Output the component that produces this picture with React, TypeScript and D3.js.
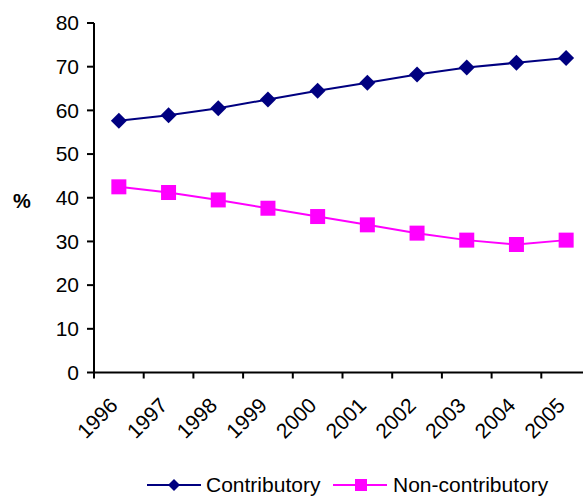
import React from "react";
import * as d3 from "d3";

const years = ["1996", "1997", "1998", "1999", "2000", "2001", "2002", "2003", "2004", "2005"];
const contributory = [57.6, 58.9, 60.5, 62.5, 64.5, 66.3, 68.2, 69.8, 70.9, 72.0];
const nonContributory = [42.5, 41.2, 39.5, 37.6, 35.7, 33.8, 31.9, 30.3, 29.3, 30.3];
const yTicks = [0, 10, 20, 30, 40, 50, 60, 70, 80];

const W = 583;
const H = 496;
const left = 94;
const right = 591;
const top = 23;
const bottom = 372.5;
const font = "Arial, 'Liberation Sans', sans-serif";
const navy = "#000080";
const magenta = "#FF00FF";

export default function App() {
  const x = d3.scaleBand<string>().domain(years).range([left, right]);
  const y = d3.scaleLinear().domain([0, 80]).range([bottom, top]);
  const cx = (d: string) => (x(d) ?? 0) + x.bandwidth() / 2;
  const line = d3
    .line<number>()
    .x((_, i) => cx(years[i]))
    .y((v) => y(v));

  const diamond = (px: number, py: number, r: number) =>
    `M${px},${py - r}L${px + r},${py}L${px},${py + r}L${px - r},${py}Z`;

  return (
    <svg
      width={W}
      height={H}
      style={{ position: "absolute", left: 0, top: 0, background: "#fff" }}
      fontFamily={font}
    >
      <rect width={W} height={H} fill="#fff" />
      {/* y axis */}
      <line x1={left} x2={left} y1={top} y2={bottom} stroke="#000" strokeWidth={2} />
      {yTicks.map((t) => (
        <g key={t}>
          <line x1={left - 7} x2={left} y1={y(t)} y2={y(t)} stroke="#000" strokeWidth={2} />
          <text x={79} y={y(t)} dy="0.35em" textAnchor="end" fontSize={21} fill="#000">
            {t}
          </text>
        </g>
      ))}
      <text x={22} y={201} dy="0.35em" textAnchor="middle" fontSize={20} fontWeight="bold">
        %
      </text>
      {/* x axis */}
      <line x1={left} x2={right} y1={bottom} y2={bottom} stroke="#000" strokeWidth={2} />
      {years.map((yr) => (
        <line
          key={"t" + yr}
          x1={x(yr)}
          x2={x(yr)}
          y1={bottom}
          y2={bottom + 6}
          stroke="#000"
          strokeWidth={2}
        />
      ))}
      {years.map((yr) => (
        <text
          key={"l" + yr}
          transform={`translate(${cx(yr) - 5},${bottom + 29}) rotate(-45)`}
          textAnchor="end"
          dy="0.35em"
          fontSize={21}
        >
          {yr}
        </text>
      ))}
      {/* series */}
      <path d={line(contributory) ?? ""} fill="none" stroke={navy} strokeWidth={2} />
      {contributory.map((v, i) => (
        <path key={"c" + i} d={diamond(cx(years[i]), y(v), 8)} fill={navy} />
      ))}
      <path d={line(nonContributory) ?? ""} fill="none" stroke={magenta} strokeWidth={2} />
      {nonContributory.map((v, i) => (
        <rect
          key={"n" + i}
          x={cx(years[i]) - 7.5}
          y={y(v) - 7.5}
          width={15}
          height={15}
          fill={magenta}
        />
      ))}
      {/* legend */}
      <g>
        <line x1={147} x2={201} y1={485} y2={485} stroke={navy} strokeWidth={2} />
        <path d={diamond(174, 485, 6)} fill={navy} />
        <text x={206} y={485} dy="0.35em" fontSize={21}>
          Contributory
        </text>
        <line x1={333} x2={387} y1={485} y2={485} stroke={magenta} strokeWidth={2} />
        <rect x={355} y={479} width={12} height={12} fill={magenta} />
        <text x={393} y={485} dy="0.35em" fontSize={21}>
          Non-contributory
        </text>
      </g>
    </svg>
  );
}
